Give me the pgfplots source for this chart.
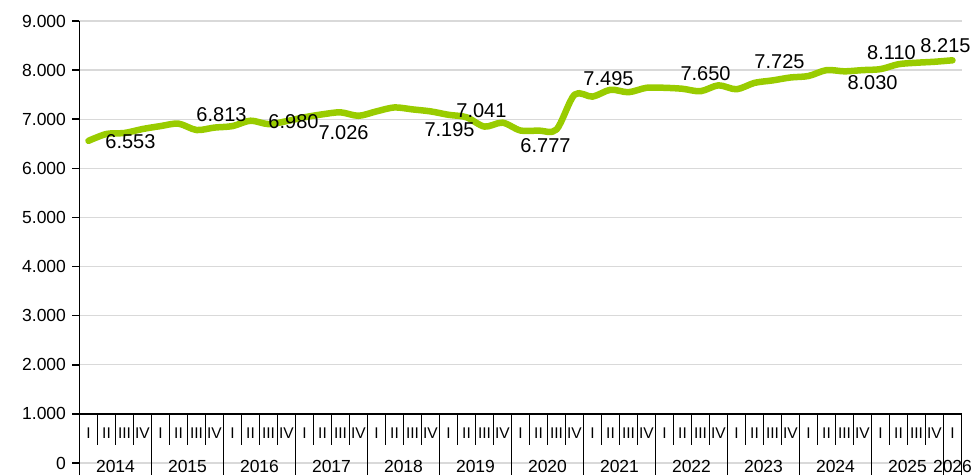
\documentclass[border=0pt]{standalone}
\usepackage{pgfplots}
\pgfplotsset{compat=1.18}
\usepackage{pgfplotstable}
\usepackage{fontspec}
\setmainfont{Liberation Sans}
\definecolor{linegreen}{RGB}{153,204,0}
\definecolor{gridgray}{RGB}{217,217,217}

\pgfplotstableread{
q v
0 6560
1 6700
2 6720
3 6800
4 6860
5 6910
6 6780
7 6830
8 6860
9 6970
10 6900
11 6960
12 7040
13 7100
14 7140
15 7070
16 7160
17 7240
18 7200
19 7160
20 7090
21 7040
22 6850
23 6930
24 6770
25 6770
26 6790
27 7500
28 7460
29 7600
30 7550
31 7640
32 7640
33 7620
34 7570
35 7690
36 7610
37 7740
38 7790
39 7850
40 7880
41 8000
42 7975
43 8000
44 8020
45 8120
46 8150
47 8170
48 8200
}\series

\pgfplotstableread{
x y label
2.33 6545 6.553
7.39 7093 6.813
11.39 6951 6.980
14.17 6728 7.026
20.06 6789 7.195
21.83 7175 7.041
25.39 6463 6.777
28.89 7825 7.495
34.28 7927 7.650
38.39 8171 7.725
43.56 7744 8.030
44.61 8354 8.110
47.61 8496 8.215
}\labels

\begin{document}
\begin{tikzpicture}
\begin{axis}[
  name=ax,
  scale only axis,
  width=882pt, height=454pt,
  xmin=-0.5, xmax=48.5, ymin=-244, ymax=9000,
  clip=false,
  axis x line=none,
  axis y line=left,
  axis line style={-},
  y axis line style={-, black, line width=1.8pt},
  ytick={0,1000,...,9000},
  tick align=outside,
  major tick length=7pt,
  ytick style={black, line width=1.6pt},
  ymajorgrids,
  grid style={draw=gridgray, line width=1.3pt},
  yticklabel style={font=\fontsize{17.5}{20}\selectfont, xshift=-3pt,
    /pgf/number format/fixed, /pgf/number format/1000 sep={.},
    /pgf/number format/assume math mode=true},
  scaled y ticks=false,
]
% category axis
\draw[black, line width=1.8pt] (axis cs:-0.5,1000) -- (axis cs:48.5,1000);
\draw[black, line width=1.8pt] (axis cs:48.5,1000) -- (axis cs:48.5,-244);
\pgfplotsinvokeforeach{0,...,11}{
  \draw[black, line width=1.7pt] (axis cs:{4*#1+3.5},1000) -- (axis cs:{4*#1+3.5},-244);
  \draw[black, line width=1.7pt] (axis cs:{4*#1+0.5},1000) -- (axis cs:{4*#1+0.5},366);
  \draw[black, line width=1.7pt] (axis cs:{4*#1+1.5},1000) -- (axis cs:{4*#1+1.5},366);
  \draw[black, line width=1.7pt] (axis cs:{4*#1+2.5},1000) -- (axis cs:{4*#1+2.5},366);
  \node[font=\fontsize{15.5}{17}\selectfont, inner sep=0pt] at (axis cs:{4*#1},610) {I};
  \node[font=\fontsize{15.5}{17}\selectfont, inner sep=0pt] at (axis cs:{4*#1+1},610) {II};
  \node[font=\fontsize{15.5}{17}\selectfont, inner sep=0pt] at (axis cs:{4*#1+2},610) {III};
  \node[font=\fontsize{15.5}{17}\selectfont, inner sep=0pt] at (axis cs:{4*#1+3},610) {IV};
  \node[font=\fontsize{17.5}{20}\selectfont, inner sep=0pt] at (axis cs:{4*#1+1.5},-75) {\the\numexpr2014+#1\relax};
}
\node[font=\fontsize{15.5}{17}\selectfont, inner sep=0pt] at (axis cs:48,610) {I};
\node[font=\fontsize{17.5}{20}\selectfont, inner sep=0pt] at (axis cs:48,-75) {2026};

\addplot[linegreen, line width=6.5pt, smooth, tension=0.5, line cap=round, line join=round] table[x=q, y=v] {\series};

\addplot[draw=none, mark=none, nodes near coords, point meta=explicit symbolic,
  nodes near coords align={center},
  every node near coord/.append style={font=\fontsize{20}{22}\selectfont, inner sep=0pt, anchor=center}]
  table[x=x, y=y, meta=label] {\labels};
\end{axis}
\pgfresetboundingbox
\path (ax.south west) ++(-79.5pt,0pt) rectangle ++(975pt,475pt);
\end{tikzpicture}
\end{document}
